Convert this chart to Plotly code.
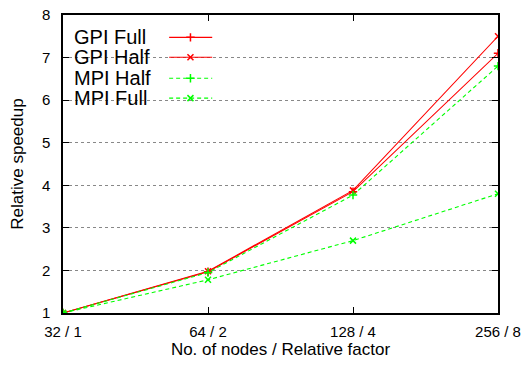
import plotly.graph_objects as go

# Scaling runs: number of nodes and the relative factor
nodes = [32, 64, 128, 256]
tick_text = ["32 / 1", "64 / 2", "128 / 4", "256 / 8"]

gpi_full = [1.0, 1.97, 3.85, 7.1]
gpi_half = [1.0, 1.98, 3.88, 7.5]
mpi_half = [1.0, 1.95, 3.77, 6.8]
mpi_full = [1.0, 1.78, 2.7, 3.8]

series = [
    ("GPI Full", gpi_full, "#ff0000", "solid", "cross-thin-open"),
    ("GPI Half", gpi_half, "#ff0000", "solid", "x-thin-open"),
    ("MPI Half", mpi_half, "#00ff00", "4px,3px", "cross-thin-open"),
    ("MPI Full", mpi_full, "#00ff00", "4px,3px", "x-thin-open"),
]

fig = go.Figure()

for name, vals, color, dash, sym in series:
    fig.add_trace(go.Scatter(
        x=nodes, y=vals, mode="lines+markers", name=name,
        line=dict(color=color, width=1.1, dash=dash),
        marker=dict(symbol=sym, size=6, color=color, line=dict(color=color, width=1.5)),
        showlegend=False,
    ))

# Key in gnuplot style: text on the left, line sample on the right,
# drawn on a hidden overlay axis spanning the whole plot area.
key_y = [0.925, 0.858, 0.788, 0.721]
for (name, vals, color, dash, sym), ky in zip(series, key_y):
    fig.add_trace(go.Scatter(
        x=[0.244, 0.293, 0.343], y=[ky, ky, ky], xaxis="x2", yaxis="y2",
        mode="lines", line=dict(color=color, width=1.1, dash=dash),
        showlegend=False, hoverinfo="skip",
    ))
    fig.add_trace(go.Scatter(
        x=[0.293], y=[ky], xaxis="x2", yaxis="y2", mode="markers",
        marker=dict(symbol=sym, size=6, color=color, line=dict(color=color, width=1.5)),
        showlegend=False, hoverinfo="skip",
    ))
    fig.add_annotation(
        x=0.020, y=ky, xref="x2", yref="y2", text=name, showarrow=False,
        xanchor="left", yanchor="middle",
        font=dict(family="Liberation Sans, Arial, sans-serif", size=20, color="black"),
    )

# white box behind the key hides the grid there
fig.add_shape(type="rect", xref="paper", yref="paper",
              x0=0.0, x1=0.36, y0=0.685, y1=0.97,
              fillcolor="white", line=dict(width=0), layer="below")

font = dict(family="Liberation Sans, Arial, sans-serif", size=14, color="black")
tick_font = dict(family="Liberation Sans, Arial, sans-serif", size=15, color="black")

fig.update_layout(
    width=524, height=368,
    margin=dict(l=63, r=26, t=15, b=55),
    paper_bgcolor="white", plot_bgcolor="white",
    font=font,
    xaxis=dict(
        type="log", range=[1.50515, 2.40824],
        tickvals=nodes, ticktext=tick_text, tickfont=tick_font,
        ticks="inside", ticklen=6, tickcolor="black", tickwidth=1,
        showline=True, linecolor="black", linewidth=1.5, mirror="ticks",
        showgrid=False, zeroline=False, automargin=False,
        ticklabelstandoff=4,
        title=dict(text="No. of nodes / Relative factor", standoff=3),
    ),
    yaxis=dict(
        range=[1, 8], dtick=1, tickfont=tick_font,
        ticks="inside", ticklen=6, tickcolor="black", tickwidth=1,
        showline=True, linecolor="black", linewidth=1.5, mirror="ticks",
        showgrid=True, gridcolor="#888888", griddash="dot", gridwidth=1,
        zeroline=False, ticklabelstandoff=8, automargin=False,
        title=dict(text="Relative speedup", standoff=14),
    ),
    xaxis2=dict(range=[0, 1], overlaying="x", visible=False, fixedrange=True),
    yaxis2=dict(range=[0, 1], overlaying="y", visible=False, fixedrange=True),
)

fig.write_html("out.html")
